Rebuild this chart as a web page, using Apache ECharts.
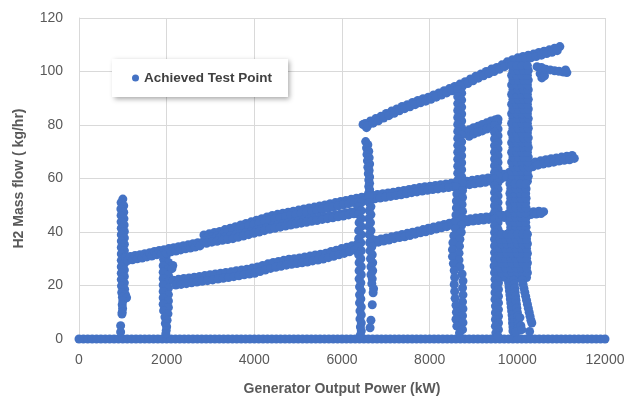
<!DOCTYPE html>
<html>
<head>
<meta charset="utf-8">
<script src="https://cdn.jsdelivr.net/npm/echarts@6/dist/echarts.min.js"></script>
<style>html,body{margin:0;padding:0;background:#fff}#c{width:634px;height:397px}</style>
</head>
<body>
<div id="c"></div>
<script>
// ---- data: [Generator Output Power kW, H2 mass flow kg/hr] ----
const zeroLineX = [0,100,200,300,400,500,600,700,800,900,1000,1100,1200,1300,1400,1500,1600,1700,1800,1900,2000,2100,2200,2300,2400,2500,2600,2700,2800,2900,3000,3100,3200,3300,3400,3500,3600,3700,3800,3900,4000,4100,4200,4300,4400,4500,4600,4700,4800,4900,5000,5100,5200,5300,5400,5500,5600,5700,5800,5900,6000,6100,6200,6300,6400,6500,6600,6700,6800,6900,7000,7100,7200,7300,7400,7500,7600,7700,7800,7900,8000,8100,8200,8300,8400,8500,8600,8700,8800,8900,9000,9100,9200,9300,9400,9500,9600,9700,9800,9900,10000,10100,10200,10300,10400,10500,10600,10700,10800,10900,11000,11100,11200,11300,11400,11500,11600,11700,11800,11900,12000];

const hold1000kW = [[1000,52.3],[960,51],[1020,49.8],[955,48.6],[1020,47.4],[960,46.2],[1025,45],[960,43.8],[1030,42.6],[965,41.4],[1035,40.2],[965,39],[1035,37.8],[965,36.6],[1035,35.4],[965,34.2],[1035,33],[965,31.8],[1035,30.6],[965,29.4],[1035,28.2],[965,27],[1035,25.8],[965,24.6],[1035,23.4],[965,22.2],[1035,21],[970,19.8],[1040,18.6],[975,17.4],[1060,16.6],[990,15.6],[1085,15.4],[1000,14.2],[985,12.8],[995,11.4],[985,10],[980,9.3],[950,5],[950,2.6]];

const hold2000kW = [[1990,31],[1930,29.8],[2040,28.6],[1920,27.4],[2040,26.2],[1920,25],[2040,23.8],[1920,22.6],[2040,21.4],[1920,20.2],[2040,19],[1920,17.8],[2040,16.6],[1920,15.4],[2040,14.2],[1920,13],[2040,11.8],[1930,10.6],[2030,9.4],[1960,8.2],[2010,7],[1970,5.8],[2000,4.6],[1990,3.2],[1980,2],[2140,27.5],[2120,26.3]];

const rampShared = [[1060,30.5],[1110,29.3],[1170,30.8],[1220,29.6],[1280,31.2],[1330,30],[1390,31.5],[1440,30.3],[1500,31.9],[1550,30.7],[1610,32.2],[1660,31],[1720,32.7],[1770,31.5],[1830,33.1],[1880,31.8],[1940,33.4],[1990,32.2],[2050,33.8],[2100,32.6],[2160,34.1],[2210,32.9],[2270,34.5],[2320,33.3],[2380,34.9],[2430,33.7],[2490,35.2],[2540,34],[2600,35.6],[2650,34.4],[2710,36],[2760,34.8]];

const rampUpperTop = [[2850,38.9],[2970,39.3],[3090,39.8],[3210,40.2],[3330,40.9],[3450,41.4],[3570,42],[3690,42.6],[3810,43.2],[3930,43.8],[4050,44.4],[4170,45],[4290,45.6],[4410,46.2],[4530,46.6],[4650,47],[4770,47.4],[4890,47.8],[5010,48.2],[5130,48.6],[5250,49],[5370,49.3],[5490,49.7],[5610,50.1],[5730,50.6],[5850,51],[5970,51.4],[6090,51.8],[6210,52.2],[6330,52.6],[6450,53],[6570,53.4],[6690,53.7],[6810,54],[6930,54.3],[7050,54.6],[7170,54.9],[7290,55.2],[7410,55.5],[7530,55.9],[7650,56.3],[7770,56.6],[7890,56.9],[8010,57.1],[8130,57.4],[8250,57.7],[8370,57.9],[8490,58.2],[8610,58.5],[8730,58.8],[8850,59],[8970,59.3],[9090,59.6],[9210,59.9],[9330,60.2],[9450,60.5],[9570,61],[9690,61.6],[9810,62.2],[9930,62.8],[10050,63.6],[10170,64.5],[10290,65.4],[10410,66.2],[10530,66.6],[10650,67],[10770,67.4],[10890,67.7],[11010,68],[11130,68.3],[11250,68.6]];
const rampUpperBottom = [[2910,37.7],[3030,38.2],[3150,38.6],[3270,39.2],[3390,39.8],[3510,40.4],[3630,41],[3750,41.6],[3870,42.2],[3990,42.8],[4110,43.4],[4230,44],[4350,44.6],[4470,45],[4590,45.4],[4710,45.8],[4830,46.2],[4950,46.6],[5070,47],[5190,47.4],[5310,47.7],[5430,48.1],[5550,48.5],[5670,48.9],[5790,49.4],[5910,49.8],[6030,50.2],[6150,50.6],[6270,51],[6390,51.4],[6510,51.8],[6630,52.1],[6750,52.4],[6870,52.7],[6990,53],[7110,53.3],[7230,53.6],[7350,53.9],[7470,54.3],[7590,54.7],[7710,55],[7830,55.3],[7950,55.6],[8070,55.9],[8190,56.1],[8310,56.4],[8430,56.6],[8550,56.9],[8670,57.2],[8790,57.5],[8910,57.7],[9030,58],[9150,58.3],[9270,58.6],[9390,59],[9510,59.3],[9630,59.9],[9750,60.5],[9870,61.1],[9990,61.8],[10110,62.6],[10230,63.5],[10350,64.4],[10470,65],[10590,65.4],[10710,65.8],[10830,66.1],[10950,66.5],[11070,66.8],[11190,67],[11300,67.5]];

const rampMiddleTop = [[2850,36.7],[2970,37],[3090,37.3],[3210,37.7],[3330,38],[3450,38.4],[3570,38.8],[3690,39.3],[3810,39.7],[3930,40.2],[4050,40.7],[4170,41.2],[4290,41.7],[4410,42.2],[4530,42.6],[4650,43],[4770,43.4],[4890,43.7],[5010,44.1],[5130,44.5],[5250,44.8],[5370,45.1],[5490,45.5],[5610,45.8],[5730,46.2],[5850,46.5],[5970,46.8],[6090,47.2],[6210,47.5],[6330,48]];
const rampMiddleBottom = [[2910,35.8],[3030,36.2],[3150,36.5],[3270,36.9],[3390,37.2],[3510,37.5],[3630,38],[3750,38.5],[3870,39],[3990,39.5],[4110,40],[4230,40.5],[4350,41],[4470,41.4],[4590,41.8],[4710,42.2],[4830,42.6],[4950,43],[5070,43.3],[5190,43.6],[5310,44],[5430,44.3],[5550,44.7],[5670,45],[5790,45.3],[5910,45.7],[6030,46],[6150,46.4],[6270,46.8],[6390,47.2]];

const rampLowerTop = [[2150,22],[2270,22.3],[2390,22.6],[2510,22.8],[2630,23.1],[2750,23.4],[2870,23.7],[2990,24],[3110,24.3],[3230,24.6],[3350,24.9],[3470,25.1],[3590,25.5],[3710,25.8],[3830,26.1],[3950,26.5],[4070,26.9],[4190,27.5],[4310,28.1],[4430,28.6],[4550,29],[4670,29.4],[4790,29.8],[4910,30],[5030,30.3],[5150,30.7],[5270,31],[5390,31.4],[5510,31.7],[5630,32.1],[5750,32.7],[5870,33.2],[5990,33.8],[6110,34.3],[6230,34.9],[6350,35.4],
  [6650,36.5],[6770,36.9],[6890,37.4],[7010,37.8],[7130,38.2],[7250,38.6],[7370,39.1],[7490,39.5],[7610,39.9],[7730,40.4],[7850,40.9],[7970,41.4],[8090,41.9],[8210,42.3],[8330,42.8],[8450,43.3],[8570,43.9],[8690,44.5],[8810,44.7],[8930,45],[9050,45.2],[9170,45.4],[9290,45.6],[9410,45.8],[9530,46.1],[9650,46.3],[9770,46.5],[9890,46.8],[10010,47],[10130,47.2],[10250,47.4],[10370,47.6],[10490,47.8],[10600,47.6]];
const rampLowerBottom = [[2210,20.2],[2330,20.4],[2450,20.7],[2570,21],[2690,21.3],[2810,21.6],[2930,21.8],[3050,22.1],[3170,22.4],[3290,22.7],[3410,23],[3530,23.3],[3650,23.6],[3770,24],[3890,24.3],[4010,24.6],[4130,25.2],[4250,25.8],[4370,26.4],[4490,26.8],[4610,27.2],[4730,27.6],[4850,27.9],[4970,28.2],[5090,28.5],[5210,28.8],[5330,29.2],[5450,29.5],[5570,29.9],[5690,30.4],[5810,30.9],[5930,31.5],[6050,32],[6170,32.6],[6290,33.2],
  [6710,35.7],[6830,36.2],[6950,36.6],[7070,37],[7190,37.5],[7310,37.9],[7430,38.2],[7550,38.7],[7670,39.2],[7790,39.7],[7910,40.1],[8030,40.6],[8150,41.1],[8270,41.6],[8390,42],[8510,42.5],[8630,43.2],[8750,43.6],[8870,43.8],[8990,44.1],[9110,44.3],[9230,44.5],[9350,44.7],[9470,45],[9590,45.2],[9710,45.4],[9830,45.7],[9950,45.9],[10070,46.1],[10190,46.3],[10310,46.5],[10430,46.7],[10540,46.9]];

const rampTopUpper = [[6530,80.6],[6650,81.5],[6770,82.4],[6890,83.3],[7010,84.3],[7130,85.2],[7250,86],[7370,86.9],[7490,87.6],[7610,88.4],[7730,89.2],[7850,89.8],[7970,90.4],[8090,91.2],[8210,92],[8330,92.8],[8450,93.6],[8570,94.4],[8690,95.3],[8810,96.2],[8930,97.2],[9050,98.2],[9170,99.1],[9290,100],[9410,100.9],[9530,101.5],[9650,102.5],[9770,103.6],[9890,104.4],[10010,105.1],[10130,105.6],[10250,106.1],[10370,106.5],[10490,107.1],[10610,107.6],[10730,108.1],[10850,108.7],[10970,109.3]];
const rampTopLower = [[6480,80.2],[6560,79],[6590,79.8],[6710,80.7],[6830,81.6],[6950,82.6],[7070,83.5],[7190,84.4],[7310,85.3],[7430,86.1],[7550,86.8],[7670,87.6],[7790,88.3],[7910,88.9],[8030,89.6],[8150,90.4],[8270,91.2],[8390,92],[8510,92.8],[8630,93.6],[8750,94.6],[8870,95.5],[8990,96.5],[9110,97.5],[9230,98.4],[9350,99.2],[9470,100],[9590,100.8],[9710,101.8],[9830,102.9],[9950,103.6],[10070,104.2],[10190,104.6],[10310,105.1],[10430,105.6],[10550,106.1],[10670,106.7],[10790,107.2],[10910,107.8]];

const topBranch = [[10450,101.8],[10550,101.5],[10520,99.2],[10560,97.6],[10620,98.4],[10650,100.8],[10750,100.6],[10850,100.3],[10950,100.1],[11050,99.8],[11130,99.6],[11100,100.6]];

const innerStep = [[8850,76.8],[8950,77.5],[9050,78],[9150,78.5],[9250,79.2],[9350,79.8],[9450,80.4],[9550,81],[9560,82.2],[8900,78.2],[9000,79],[9100,79.5],[9200,80.2],[9300,80.8],[9400,81.5],[9500,82],[8900,75.8],[9000,76.6],[9100,77.3],[9200,77.8],[9300,78.5],[9400,79.2]];

const hold6500kW = [[6540,73.8],[6590,72.6],[6560,71.4],[6610,70.2],[6570,69],[6620,67.8],[6580,66.6],[6630,65.4],[6590,64.2],[6620,63],[6600,61.8],[6630,60.6],[6610,59.4],[6630,58.2],[6610,57],[6630,55.8],[6610,54.6],[6620,53.4],
  [6440,51],[6380,49.5],[6440,48],[6380,46.5],[6440,45],[6390,43.5],[6440,42],[6380,40.5],[6440,39],[6380,37.5],[6430,36],[6380,34.5],[6440,33],[6380,31.5],[6430,30],[6390,28.5],[6440,27],[6390,25.5],[6440,24],[6390,22.5],[6430,21],[6400,19.5],[6440,18],[6400,16.5],[6430,15],[6400,13.5],[6440,12],[6410,10.5],[6440,9],[6410,7.5],[6440,6],[6420,4.5],[6440,3],[6420,1.5],
  [6620,51],[6660,49.5],[6620,48],[6660,46.5],[6610,45],[6650,43.5],[6610,42],[6660,40.5],[6620,39],[6670,37.5],[6630,36],[6680,34.5],[6640,33],[6690,31.5],[6650,30],[6700,28.5],[6660,27],[6700,25.5],[6660,24],[6690,22.5],[6680,20.7],[6720,18.8],[6710,17.3],[6690,12.8],[6660,7],[6640,4.2]];

const hold8700kW = [[8690,94.5],[8640,93.2],[8730,91.9],[8640,90.6],[8730,89.3],[8640,88],[8730,86.7],[8640,85.4],[8730,84.1],[8640,82.8],[8730,81.5],[8640,80.2],[8730,78.9],[8640,77.6],[8730,76.3],[8640,75],[8730,73.7],[8640,72.4],[8730,71.1],[8640,69.8],[8730,68.5],[8640,67.2],[8730,65.9],[8640,64.6],[8730,63.3],[8640,62],[8730,60.7],[8640,59.4],
  [8750,58.1],[8610,56.8],[8750,55.5],[8620,54.2],[8750,52.9],[8610,51.6],[8740,50.3],[8610,49],[8750,47.7],[8600,46.4],[8740,45.1],[8600,43.8],[8730,42.5],[8590,41.2],[8720,39.9],
  [8550,38.6],[8690,37.3],[8530,36],[8680,34.7],[8520,33.4],[8670,32.1],[8520,30.8],[8670,29.5],[8540,28.2],[8690,26.9],
  [8560,25.6],[8740,24.3],[8570,23],[8760,21.7],[8560,20.4],[8750,19.1],[8570,17.8],[8760,16.5],[8580,15.2],[8750,13.9],
  [8600,12.6],[8760,11.3],[8610,10],[8750,8.7],[8600,7.4],[8760,6.1],[8620,4.8],[8750,3.5],[8680,2.2]];

const hold9500kW = [[9520,81],[9480,79.8],[9560,78.5],[9480,77.3],[9560,76],[9480,74.8],[9560,73.5],[9480,72.3],[9560,71],[9480,69.8],[9560,68.5],[9480,67.3],[9560,66],[9480,64.8],[9560,63.5],[9480,62.3],[9560,61],[9480,59.8],[9560,58.5],[9480,57.3],[9560,56],[9480,54.8],[9560,53.5],[9480,52.3],[9560,51],[9480,49.8],[9560,48.5],[9480,47.3],[9560,46],[9480,44.8],[9560,43.5],[9480,42.3],[9560,41],[9480,39.8],[9560,38.5],[9480,37.3],[9560,36],[9480,34.8],[9560,33.5],[9480,32.3],[9560,31],[9480,29.8],[9560,28.5],[9470,27.3],[9560,26],[9480,24.8],[9560,23.5],[9490,22.3],[9570,21],[9490,19.8],[9570,18.5],[9490,17.3],[9570,16],[9490,14.8],[9570,13.5],[9500,12.3],[9570,11],[9500,9.8],[9570,8.5],[9500,7.3],[9570,6],[9500,4.8],[9570,3.5],[9510,2.3],[9560,1]];

const cluster10000kW = [
  [9870,59],[9990,59],[10110,59],[10230,59],[9900,60.8],[10020,60.8],[10140,60.8],[10250,60.8],
  [9870,62.6],[9990,62.6],[10110,62.6],[10230,62.6],[9900,64.4],[10020,64.4],[10140,64.4],[10250,64.4],
  [9870,66.2],[9990,66.2],[10110,66.2],[10230,66.2],[9900,68],[10020,68],[10140,68],[10250,68],
  [9870,69.8],[9990,69.8],[10110,69.8],[10230,69.8],[9900,71.6],[10020,71.6],[10140,71.6],[10250,71.6],
  [9870,73.4],[9990,73.4],[10110,73.4],[10230,73.4],[9900,75.2],[10020,75.2],[10140,75.2],[10250,75.2],
  [9870,77],[9990,77],[10110,77],[10230,77],[9900,78.8],[10020,78.8],[10140,78.8],[10250,78.8],
  [9870,80.6],[9990,80.6],[10110,80.6],[10230,80.6],[9900,82.4],[10020,82.4],[10140,82.4],[10250,82.4],
  [9870,84.2],[9990,84.2],[10110,84.2],[10230,84.2],[9900,86],[10020,86],[10140,86],[10250,86],
  [9870,87.8],[9990,87.8],[10110,87.8],[10230,87.8],[9900,89.6],[10020,89.6],[10140,89.6],[10250,89.6],
  [9870,91.4],[9990,91.4],[10110,91.4],[10230,91.4],[9900,93.2],[10020,93.2],[10140,93.2],[10250,93.2],
  [9870,95],[9990,95],[10110,95],[10230,95],[9900,96.8],[10020,96.8],[10140,96.8],[10250,96.8],
  [9870,98.6],[9990,98.6],[10110,98.6],[10230,98.6],[9900,100.4],[10020,100.4],[10140,100.4],[10250,100.4],
  [9870,102.2],[9990,102.2],[10110,102.2],[10230,102.2],
  [9830,40],[9950,40],[10070,40],[10190,40],[9850,41.8],[9970,41.8],[10090,41.8],[10200,41.8],
  [9830,43.6],[9950,43.6],[10070,43.6],[10190,43.6],[9850,45.4],[9970,45.4],[10090,45.4],[10200,45.4],
  [9830,47.2],[9950,47.2],[10070,47.2],[10190,47.2],[9850,49],[9970,49],[10090,49],[10200,49],
  [9830,50.8],[9950,50.8],[10070,50.8],[10190,50.8],[9850,52.6],[9970,52.6],[10090,52.6],[10200,52.6],
  [9830,54.4],[9950,54.4],[10070,54.4],[10190,54.4],[9850,56.2],[9970,56.2],[10090,56.2],[10200,56.2],
  [9830,58],[9950,58],[10070,58],[10190,58],
  [9610,23],[9730,23],[9850,23],[9970,23],[10090,23],[10210,23],[9640,24.8],[9760,24.8],[9880,24.8],[10000,24.8],[10120,24.8],[10230,24.8],
  [9610,26.6],[9730,26.6],[9850,26.6],[9970,26.6],[10090,26.6],[10210,26.6],[9640,28.4],[9760,28.4],[9880,28.4],[10000,28.4],[10120,28.4],[10230,28.4],
  [9610,30.2],[9730,30.2],[9850,30.2],[9970,30.2],[10090,30.2],[10210,30.2],[9640,32],[9760,32],[9880,32],[10000,32],[10120,32],[10230,32],
  [9610,33.8],[9730,33.8],[9850,33.8],[9970,33.8],[10090,33.8],[10210,33.8],[9640,35.6],[9760,35.6],[9880,35.6],[10000,35.6],[10120,35.6],[10230,35.6],
  [9610,37.4],[9730,37.4],[9850,37.4],[9970,37.4],[10090,37.4],[10210,37.4],[9640,39.2],[9760,39.2],[9880,39.2],[10000,39.2],[10120,39.2],[10230,39.2]];

const clusterTails = [[9800,21],[9810,19.5],[9820,18],[9830,16.5],[9840,15],[9850,13.5],[9860,12],[9870,10.5],[9880,9],[9890,7.5],[9890,6],[9900,4.5],[9900,3],
  [9920,22],[9930,20.5],[9940,19],[9950,17.5],[9960,16],[9970,14.5],[9980,13],[9990,11.5],[10000,10],[10010,8.5],[10020,7],[10020,5.5],[10010,4],[10040,3.2],[9960,2.6],[10060,8],[10080,5],[10100,3.5],
  [10110,22],[10130,20.5],[10150,19],[10170,17.5],[10190,16],[10210,14.5],[10230,13],[10250,11.5],[10270,10],[10290,8.5],[10310,7],[10330,6],[10280,2.8]];

// ---- chart ----
const points = [].concat(
  zeroLineX.map(x => [x, 0]),
  hold1000kW, hold2000kW, rampShared, rampUpperTop, rampUpperBottom,
  rampMiddleTop, rampMiddleBottom, rampLowerTop, rampLowerBottom,
  rampTopUpper, rampTopLower, topBranch, innerStep,
  hold6500kW, hold8700kW, hold9500kW, cluster10000kW, clusterTails
);

const FONT = 'Liberation Sans, Arial, sans-serif';
const plain = v => String(v);
const chart = echarts.init(document.getElementById('c'), null, {renderer: 'canvas'});
chart.setOption({
  animation: false,
  backgroundColor: '#ffffff',
  grid: {left: 79, right: 29, top: 18, bottom: 58, containLabel: false, outerBoundsMode: 'none'},
  legend: {
    left: 112, top: 59,
    padding: [12, 16, 12, 20],
    itemWidth: 7, itemHeight: 7, icon: 'circle',
    backgroundColor: '#ffffff',
    shadowBlur: 5, shadowColor: 'rgba(0,0,0,0.35)', shadowOffsetX: 2, shadowOffsetY: 2,
    textStyle: {color: '#404040', fontSize: 13.5, fontWeight: 'bold', fontFamily: FONT},
    data: ['Achieved Test Point']
  },
  xAxis: {
    type: 'value', min: 0, max: 12000, interval: 2000,
    name: 'Generator Output Power (kW)', nameLocation: 'middle', nameGap: 43,
    nameTextStyle: {color: '#595959', fontSize: 14, fontWeight: 'bold', fontFamily: FONT},
    axisLine: {show: true, lineStyle: {color: '#d9d9d9'}},
    axisTick: {show: false},
    axisLabel: {color: '#595959', fontSize: 14, margin: 14, fontFamily: FONT, formatter: plain},
    splitLine: {show: true, lineStyle: {color: '#d9d9d9', width: 1}}
  },
  yAxis: {
    type: 'value', min: 0, max: 120, interval: 20,
    name: 'H2 Mass flow ( kg/hr)', nameLocation: 'middle', nameGap: 53,
    nameTextStyle: {color: '#595959', fontSize: 14, fontWeight: 'bold', fontFamily: FONT},
    axisLine: {show: true, lineStyle: {color: '#d9d9d9'}},
    axisTick: {show: false},
    axisLabel: {color: '#595959', fontSize: 14, margin: 16, fontFamily: FONT, formatter: plain},
    splitLine: {show: true, lineStyle: {color: '#d9d9d9', width: 1}}
  },
  series: [{
    name: 'Achieved Test Point',
    type: 'scatter',
    data: points,
    symbol: 'circle',
    symbolSize: 9,
    clip: false,
    silent: true,
    itemStyle: {color: '#4472C4', opacity: 1}
  }]
});
</script>
</body>
</html>
